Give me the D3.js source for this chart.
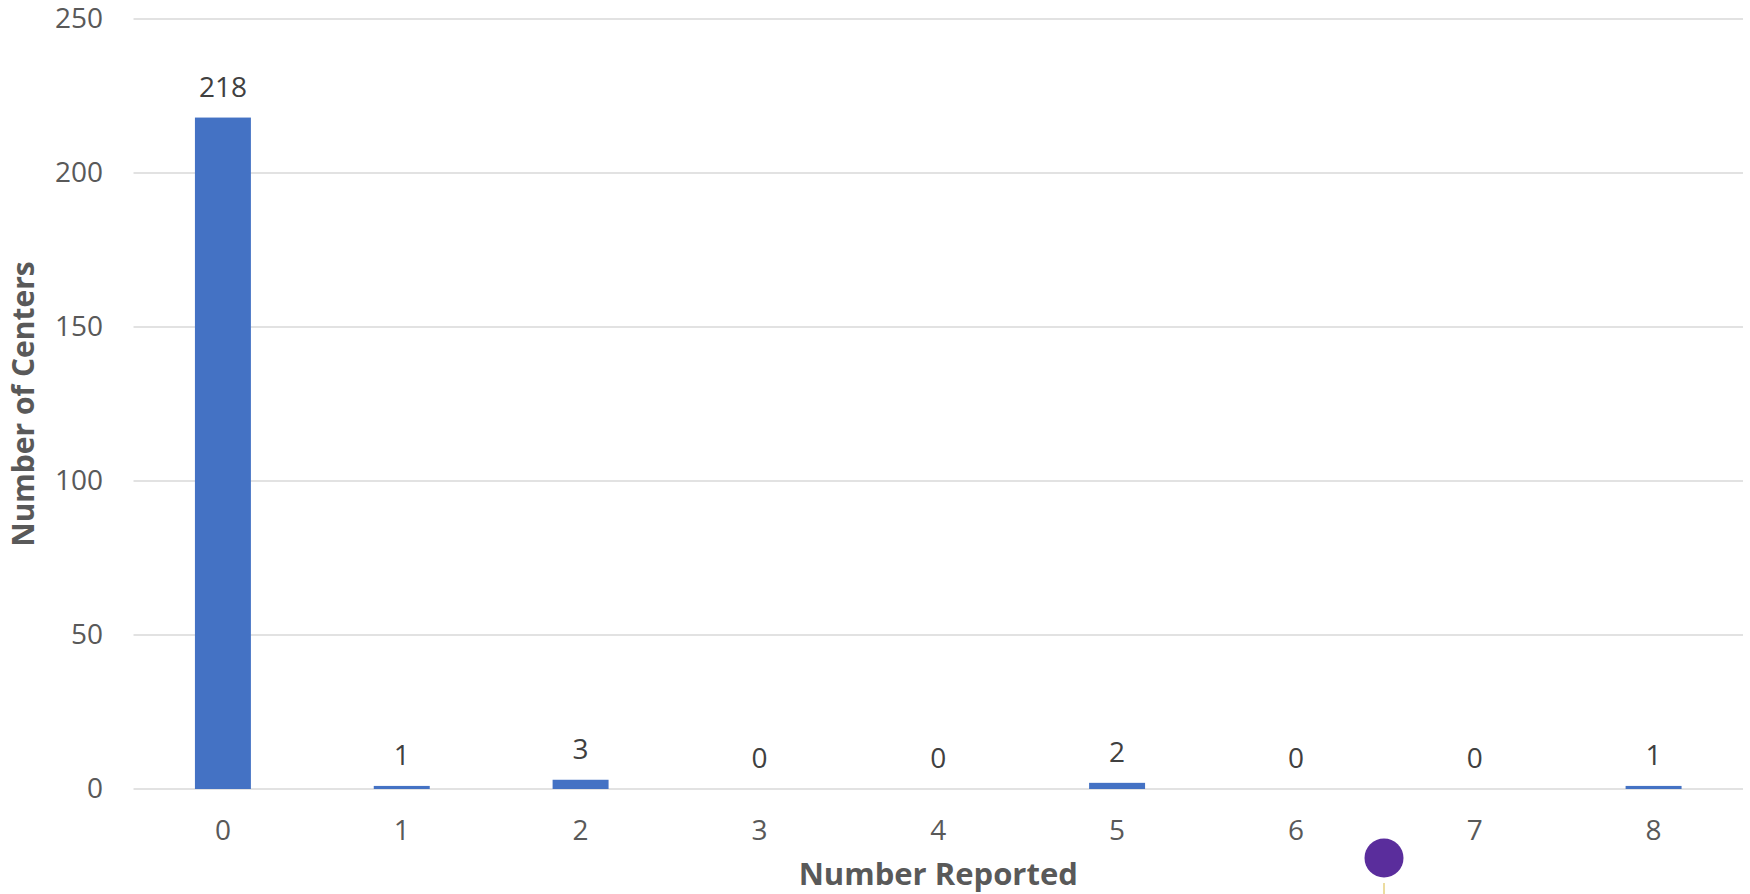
<!DOCTYPE html>
<html>
<head>
<meta charset="utf-8">
<script src="https://cdn.jsdelivr.net/npm/d3@7"></script>
<style>
  html, body { margin: 0; padding: 0; background: #ffffff; }
  svg { display: block; }
  text { font-family: "Open Sans", "Liberation Sans", sans-serif; }
</style>
</head>
<body>
<svg id="chart" width="1750" height="894"></svg>
<script>
// Distribution of centers by number reported
const categories = ["0", "1", "2", "3", "4", "5", "6", "7", "8"];
const centerCounts = [218, 1, 3, 0, 0, 2, 0, 0, 1];
const yTicks = [0, 50, 100, 150, 200, 250];
const xTitle = "Number Reported";
const yTitle = "Number of Centers";

const svg = d3.select("#chart");
const plot = { left: 133.5, right: 1743, top: 19, bottom: 789 };

const x = d3.scaleBand()
  .domain(categories)
  .range([plot.left, plot.right])
  .paddingInner(0.687)
  .paddingOuter(0.3435);

const y = d3.scaleLinear()
  .domain([0, 250])
  .range([plot.bottom, plot.top]);

// horizontal gridlines
svg.append("g")
  .selectAll("line")
  .data(yTicks)
  .join("line")
  .attr("x1", plot.left)
  .attr("x2", plot.right)
  .attr("y1", d => y(d))
  .attr("y2", d => y(d))
  .attr("stroke", "#d9d9d9")
  .attr("stroke-width", 1.5);

// y axis labels
const yAxis = d3.axisLeft(y).tickValues(yTicks).tickSize(0).tickPadding(0);
const gy = svg.append("g")
  .attr("transform", `translate(${103},0)`)
  .call(yAxis);
gy.select(".domain").remove();
gy.selectAll("text")
  .attr("fill", "#595959")
  .attr("font-size", 28)
  .attr("font-family", "'Open Sans', sans-serif");

// x axis labels
const xAxis = d3.axisBottom(x).tickSize(0).tickPadding(0);
const gx = svg.append("g")
  .attr("transform", `translate(0,${plot.bottom})`)
  .call(xAxis);
gx.select(".domain").remove();
gx.selectAll("text")
  .attr("fill", "#595959")
  .attr("font-size", 28)
  .attr("font-family", "'Open Sans', sans-serif")
  .attr("dy", null)
  .attr("y", 51);

// bars
svg.append("g")
  .selectAll("rect")
  .data(categories.map((c, i) => ({ c, v: centerCounts[i] })))
  .join("rect")
  .attr("x", d => x(d.c))
  .attr("width", x.bandwidth())
  .attr("y", d => y(d.v))
  .attr("height", d => y(0) - y(d.v))
  .attr("fill", "#4472c4");

// value labels
svg.append("g")
  .selectAll("text")
  .data(categories.map((c, i) => ({ c, v: centerCounts[i] })))
  .join("text")
  .attr("x", d => x(d.c) + x.bandwidth() / 2)
  .attr("y", d => y(d.v) - 21)
  .attr("text-anchor", "middle")
  .attr("font-size", 28)
  .attr("fill", "#404040")
  .text(d => d.v);

// axis titles
svg.append("text")
  .attr("x", (plot.left + plot.right) / 2)
  .attr("y", 885)
  .attr("text-anchor", "middle")
  .attr("font-size", 31)
  .attr("font-weight", "bold")
  .attr("fill", "#595959")
  .text(xTitle);

svg.append("text")
  .attr("transform", `translate(34,404) rotate(-90)`)
  .attr("text-anchor", "middle")
  .attr("font-size", 30)
  .attr("font-weight", "bold")
  .attr("fill", "#595959")
  .text(yTitle);

// small purple marker below the axis
svg.append("line")
  .attr("x1", 1384).attr("x2", 1384)
  .attr("y1", 883).attr("y2", 894)
  .attr("stroke", "#ecdca0")
  .attr("stroke-width", 2);
svg.append("circle")
  .attr("cx", 1384)
  .attr("cy", 858)
  .attr("r", 19.5)
  .attr("fill", "#5a2d9c");
</script>
</body>
</html>
